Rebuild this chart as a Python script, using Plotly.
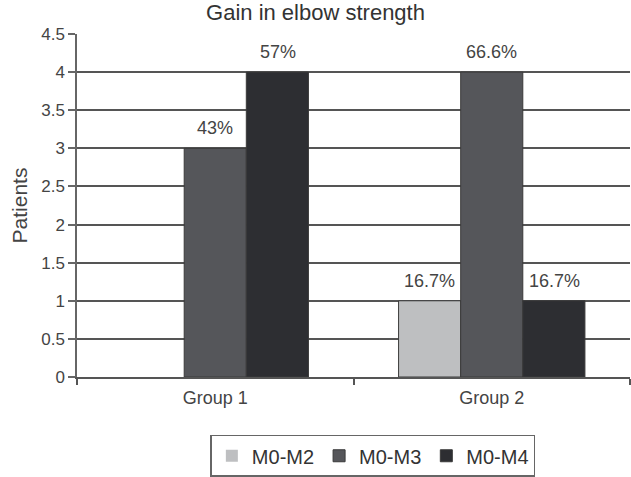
import plotly.graph_objects as go

groups = ["Group 1", "Group 2"]
series = ["M0-M2", "M0-M3", "M0-M4"]
values = {
    "M0-M2": [0, 1],
    "M0-M3": [3, 4],
    "M0-M4": [4, 1],
}
labels = {
    "M0-M2": ["", "16.7%"],
    "M0-M3": ["43%", "66.6%"],
    "M0-M4": ["57%", "16.7%"],
}
colors = {"M0-M2": "#bebfc1", "M0-M3": "#55565a", "M0-M4": "#2d2e32"}
yticks = [0, 0.5, 1, 1.5, 2, 2.5, 3, 3.5, 4, 4.5]

FONT = "Liberation Sans, Arial, sans-serif"

fig = go.Figure()
for s in series:
    fig.add_trace(go.Bar(
        name=s, x=groups, y=values[s],
        marker=dict(color=colors[s],
                    line=dict(color="#3a3a3a",
                              width=[0 if v == 0 else 1 for v in values[s]])),
        offsetgroup=s,
    ))

# percentage labels above bars
n = len(series)
for i, s in enumerate(series):
    for j, g in enumerate(groups):
        if labels[s][j]:
            fig.add_annotation(
                x=j, xref="x", y=values[s][j], yref="y",
                xshift=(i - (n - 1) / 2) * 62.3,
                yshift=8, yanchor="bottom", showarrow=False,
                text=labels[s][j],
                font=dict(family=FONT, size=18, color="#444"),
            )

fig.update_layout(
    width=631, height=477,
    margin=dict(l=77, r=1, t=34, b=99),
    paper_bgcolor="white", plot_bgcolor="white",
    barmode="group", bargap=0.326, bargroupgap=0,
    font=dict(family=FONT, color="#444"),
    title=dict(text="Gain in elbow strength", x=0.5, xanchor="center",
               y=0.975, yanchor="middle",
               font=dict(family=FONT, size=22, color="#333")),
    showlegend=True,
    legend=dict(orientation="h", x=0.535, xanchor="center", y=-0.165, yanchor="top",
                bordercolor="#666", borderwidth=1.5,
                font=dict(family=FONT, size=20, color="#333"),
                traceorder="normal", itemwidth=30),
)
fig.update_yaxes(
    range=[0, 4.5], tickvals=yticks, ticktext=[f"{v:g}" for v in yticks],
    showgrid=True, gridcolor="#555", gridwidth=1.5,
    zeroline=False, showline=True, linecolor="#666", linewidth=1.5,
    ticks="outside", ticklen=7, tickcolor="#666", tickwidth=1.5,
    tickfont=dict(family=FONT, size=17, color="#444"),
    title=dict(text="Patients", font=dict(family=FONT, size=21, color="#444"), standoff=8),
)
fig.update_xaxes(
    showline=True, linecolor="#555", linewidth=1.5,
    ticks="outside", tickson="boundaries", ticklen=6, tickcolor="#555", tickwidth=1.5,
    tickfont=dict(family=FONT, size=18, color="#444"),
    ticklabelstandoff=4,
)

fig.write_html("out.html")
